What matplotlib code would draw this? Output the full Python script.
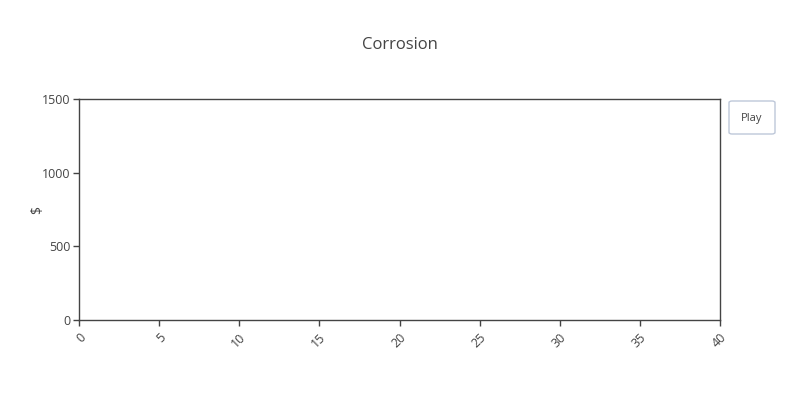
import matplotlib
matplotlib.use("Agg")
import matplotlib.pyplot as plt
from matplotlib.patches import FancyBboxPatch

plt.rcParams['font.family'] = ['Open Sans', 'DejaVu Sans']

# Dati (grafico vuoto: solo assi)
title = "Corrosion"
y_label = "$"
x_ticks = [0, 5, 10, 15, 20, 25, 30, 35, 40]
y_ticks = [0, 500, 1000, 1500]
x_values = []
y_values = []

fig = plt.figure(figsize=(8, 4), dpi=100)
ax = fig.add_axes([79 / 800, 1 - 320 / 400, (720 - 79) / 800, (320 - 99) / 400])

ax.plot(x_values, y_values)
ax.set_xlim(x_ticks[0], x_ticks[-1])
ax.set_ylim(y_ticks[0], y_ticks[-1])
ax.set_xticks(x_ticks)
ax.set_yticks(y_ticks)
ax.set_xticklabels([str(t) for t in x_ticks], rotation=45, ha='right', va='top',
                   rotation_mode='anchor', color='#444444', fontsize=9)
ax.set_yticklabels([str(t) for t in y_ticks], color='#444444', fontsize=9)
ax.tick_params(axis='x', length=4, width=1, color='#444444', pad=4)
ax.tick_params(axis='y', length=4, width=1, color='#444444', pad=2)
for s in ax.spines.values():
    s.set_color('#444444')
    s.set_linewidth(1)

ax.set_ylabel(y_label, color='#444444', fontsize=10)
ax.yaxis.set_label_coords((45 - 79) / 641, (320 - 210) / 221)
fig.text(400 / 800, 1 - 45 / 400, title, ha='center', va='center', fontsize=12, color='#444444')

# bottone Play
btn = FancyBboxPatch((729 / 800, 1 - 134 / 400), 46 / 800, 33 / 400,
                     boxstyle="round,pad=0,rounding_size=0.004",
                     transform=fig.transFigure, facecolor='white',
                     edgecolor='#bec8d9', linewidth=1)
fig.patches.append(btn)
fig.text(752 / 800, 1 - 118 / 400, "Play", ha='center', va='center', fontsize=8, color='#444444')

fig.savefig("out.png", dpi=100)
